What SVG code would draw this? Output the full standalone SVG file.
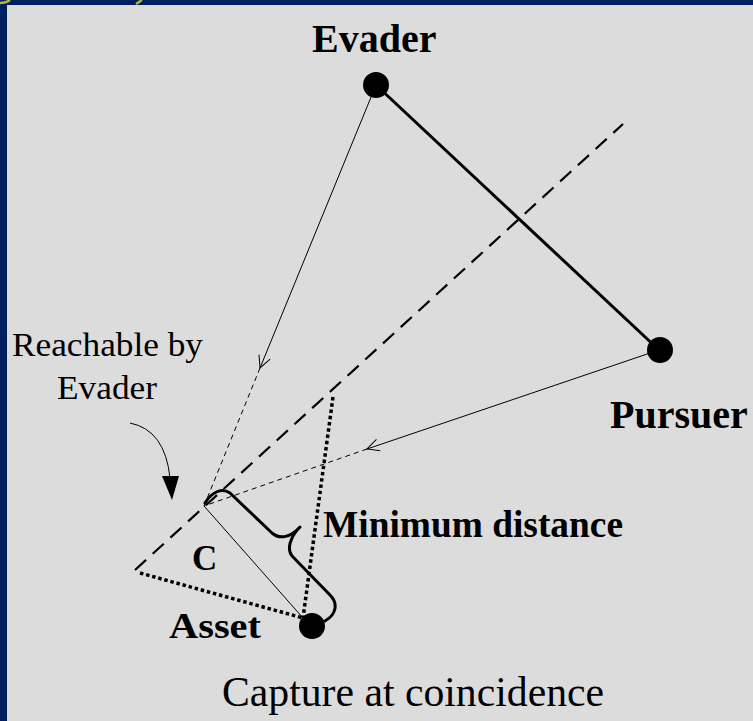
<svg xmlns="http://www.w3.org/2000/svg" width="753" height="721" viewBox="0 0 753 721">
  <style>
    .lbl { font-family: "Liberation Serif", Tinos, "Times New Roman", Times, serif; fill: #000; }
    .b { font-weight: bold; }
    .thin { stroke: #000; stroke-width: 1; fill: none; }
    .thindash { stroke: #000; stroke-width: 1; fill: none; stroke-dasharray: 5 4; }
    .bigdash { stroke: #000; stroke-width: 2.2; fill: none; stroke-dasharray: 15 9; }
    .dots { stroke: #000; stroke-width: 3.5; fill: none; stroke-dasharray: 3.5 2.8; }
    .thick { stroke: #000; stroke-width: 3; fill: none; }
    .dot { fill: #000; }
  </style>
  <defs>
    <marker id="vopen" markerWidth="16" markerHeight="14" refX="13" refY="7" orient="auto" markerUnits="userSpaceOnUse">
      <path d="M1,1 L13,7 L1,13" fill="none" stroke="#000" stroke-width="1"/>
    </marker>
  </defs>
  <rect x="0" y="0" width="753" height="721" fill="#001f5f"/>
  <rect x="7" y="5" width="746" height="716" fill="#dcdcdc"/>
  <g id="title-fragments" stroke="#b5b52a" stroke-width="2.5" fill="none">
    <path d="M0,3 Q6,3 10,0"/>
    <path d="M136,4 L142,0"/>
  </g>

  <g id="connectors">
    <line class="bigdash" x1="135" y1="570" x2="623" y2="124"/>
    <line class="thick" x1="376" y1="85" x2="659" y2="350"/>
    <line class="thin" x1="376" y1="85" x2="260" y2="368" marker-end="url(#vopen)"/>
    <line class="thindash" x1="260" y1="368" x2="204" y2="506"/>
    <line class="thin" x1="659" y1="350" x2="367" y2="449" marker-end="url(#vopen)"/>
    <line class="thindash" x1="367" y1="449" x2="204" y2="506"/>
    <line class="thin" x1="204" y1="506" x2="303" y2="618"/>
    <line class="dots" x1="140" y1="573" x2="303" y2="618"/>
    <line class="dots" x1="333" y1="397" x2="303" y2="618"/>
    <path class="thick" stroke-linejoin="round" stroke-linecap="round" d="M205,503 C211,493 221,487 230,493 L272,533 C280,540 291,537 300,527 C290,537 286,550 293,557 L330,595 C338,603 337,614 325,621"/>
    <path class="thin" stroke-width="1.3" d="M130,423 Q165,430 170,478"/>
    <polygon points="162,476 179,476 172,500" fill="#000"/>
  </g>

  <g id="evader">
    <circle class="dot" cx="376" cy="85" r="13"/>
    <text class="lbl b" x="312" y="52" font-size="40">Evader</text>
  </g>
  <g id="pursuer">
    <circle class="dot" cx="660" cy="350" r="13"/>
    <text class="lbl b" x="610" y="428" font-size="40">Pursuer</text>
  </g>
  <g id="asset">
    <circle class="dot" cx="312" cy="626" r="13"/>
    <text class="lbl b" x="169" y="638" font-size="36" textLength="92" lengthAdjust="spacingAndGlyphs">Asset</text>
  </g>
  <g id="c-label">
    <text class="lbl b" x="192" y="570" font-size="35">C</text>
  </g>
  <g id="min-distance-label">
    <text class="lbl b" x="323" y="537" font-size="38" textLength="300" lengthAdjust="spacingAndGlyphs">Minimum distance</text>
  </g>
  <g id="reachable-label">
    <text class="lbl" x="12" y="356" font-size="34" textLength="191" lengthAdjust="spacingAndGlyphs">Reachable by</text>
    <text class="lbl" x="57" y="399" font-size="34" textLength="100" lengthAdjust="spacingAndGlyphs">Evader</text>
  </g>
  <g id="caption">
    <text class="lbl" x="222" y="706" font-size="42" textLength="382" lengthAdjust="spacingAndGlyphs">Capture at coincidence</text>
  </g>
</svg>
